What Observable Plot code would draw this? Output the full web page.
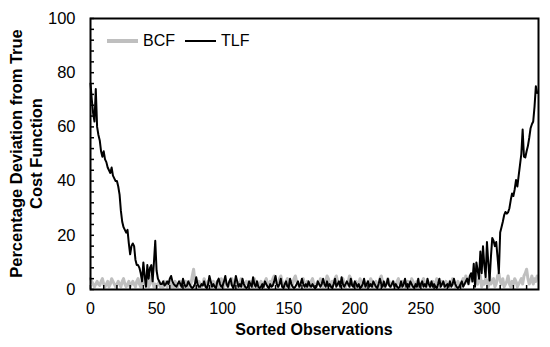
<!DOCTYPE html>
<html>
<head>
<meta charset="utf-8">
<script src="https://cdn.jsdelivr.net/npm/d3@7"></script>
<script src="https://cdn.jsdelivr.net/npm/@observablehq/plot@0.6"></script>
<style>
  html, body { margin: 0; padding: 0; background: #fff; }
  #wrap { position: relative; width: 550px; height: 347px; font-family: "Liberation Sans", Arial, sans-serif; }
  #legend { position: absolute; left: 107px; top: 32px; display: flex; align-items: center; font-size: 16px; color: #000; }
  #legend span.sw { display: inline-block; width: 31px; height: 0; margin-right: 5px; }
  #legend span.lab { margin-right: 10px; }
</style>
</head>
<body>
<div id="wrap">
  <div id="chart"></div>
  <div id="legend"></div>
</div>
<script>
// ---- data ----
const seriesNames = ["BCF", "TLF"];
const seriesColors = ["#bfbfbf", "#000000"];
const xTicks = [0, 50, 100, 150, 200, 250, 300];
const yTicks = [0, 20, 40, 60, 80, 100];

const tlf = [
  76, 70, 65, 62, 74, 60, 57, 55, 51, 49,
  51, 48, 47, 45, 44, 43, 45, 42, 41, 40,
  40, 38, 35, 29, 25, 23, 22, 21, 22, 17,
  13, 16, 17, 16, 11, 9, 9, 8, 6, 3,
  10, 5, 1, 9, 4, 8, 9, 3, 10, 18,
  7, 4, 3, 2, 2, 3, 1.5, 2, 3, 2,
  4, 5, 3, 2, 1.5, 1, 2, 3, 2, 1,
  4, 2, 1, 1.5, 3, 2, 1, 0.5, 1, 2,
  4.5, 2, 1, 1, 2, 1.5, 3, 1, 0.5, 2,
  5, 3, 1, 2, 1, 0.5, 3, 4, 2, 1,
  1.5, 3, 5, 2, 1, 3, 4, 1.5, 0.5, 2,
  5, 3, 1, 2, 1, 4, 2, 1, 0.5, 1,
  3, 2, 1, 4.5, 2, 1, 3, 1, 0.5, 1,
  2, 1, 3, 2, 1, 0.5, 2, 1, 1.5, 3,
  5, 2, 1, 2, 4, 1, 0.5, 2, 3, 1,
  1, 4, 2, 1, 0.5, 1, 2, 3, 1, 2,
  4, 2, 1, 2, 1, 3, 1.5, 1, 2, 1,
  0.5, 1, 3, 2, 1, 2, 4, 2, 1, 3,
  1, 2, 1, 0.5, 2, 4, 1, 2, 3, 1,
  4.5, 2, 1, 2, 3, 2, 1, 4, 1.5, 1,
  3, 2, 1, 2, 0.5, 1, 2, 4, 1, 2,
  3, 1, 2, 1, 3, 2, 1, 0.5, 2, 4,
  2, 1, 3, 1, 2, 4, 1.5, 1, 2, 3,
  1, 2, 1, 0.5, 1, 3, 1, 2, 4, 1,
  2, 1, 3, 2, 1, 0.5, 2, 1, 4, 1,
  2, 3, 1, 2, 1, 4, 2, 1, 3, 1,
  2, 1, 0.5, 2, 4, 1, 2, 3, 1, 1.5,
  2, 1, 3, 1, 2, 4, 2, 1, 0.5, 1,
  2, 3, 1, 2, 3, 4, 2, 5, 6, 3,
  9.5, 1, 10, 7, 4, 14, 6, 16, 9, 4.6,
  17.5, 10, 3.3, 12, 19, 18, 16, 17.5, 12, 6,
  21, 23, 25, 27.4, 28.6, 28, 28.5, 30, 33, 35.4,
  34.5, 37, 40.4, 38, 42, 46, 50, 59, 49, 48.7,
  51, 53, 56, 59.5, 61, 62, 67.5, 75, 72.5
];

const bcf = [
  4, 3, 2, 1, 2, 3, 2, 1.5, 3, 4,
  2, 1, 2, 3, 1, 2, 4, 3, 2, 1,
  2, 3, 2, 1, 3, 4, 2, 1, 2, 3,
  1, 2, 3, 2, 1, 3, 4, 2, 1, 3,
  5, 2, 3, 4, 1, 2, 5, 3, 1, 2,
  1, 2, 3, 1, 2, 1, 3, 2, 1, 2,
  3, 1, 2, 1, 3, 2, 1, 2, 3, 1,
  2, 1, 3, 2, 1, 3, 2, 5, 7.5, 3,
  2, 1, 3, 2, 1, 2, 4, 2, 1, 3,
  2, 1, 2, 3, 1, 2, 3, 1, 2, 4,
  2, 1, 3, 2, 1, 2, 3, 4, 2, 1,
  2, 3, 1, 2, 4, 3, 1, 2, 3, 2,
  1, 3, 2, 1, 4, 2, 3, 1, 2, 3,
  2, 1, 3, 4, 2, 1, 3, 2, 4, 5,
  3, 2, 1, 4, 5, 3, 2, 1, 3, 4,
  2, 1, 3, 2, 4, 5, 3, 2, 1, 2,
  3, 4, 2, 1, 3, 2, 1, 3, 4, 2,
  1, 2, 3, 2, 4, 3, 1, 2, 3, 5,
  4, 2, 1, 3, 2, 4, 5, 3, 2, 1,
  3, 4, 2, 1, 2, 3, 5, 4, 2, 1,
  2, 3, 1, 2, 4, 2, 1, 3, 2, 1,
  3, 2, 4, 3, 1, 2, 3, 2, 1, 4,
  5, 3, 2, 1, 2, 4, 3, 1, 2, 3,
  2, 1, 3, 4, 2, 1, 3, 2, 1, 2,
  3, 2, 1, 4, 3, 2, 1, 3, 2, 1,
  2, 3, 4, 2, 1, 3, 2, 1, 2, 3,
  1, 2, 4, 3, 1, 2, 3, 2, 1, 3,
  2, 1, 3, 2, 4, 3, 1, 2, 3, 2,
  1, 3, 4, 2, 5, 3, 2, 4, 5, 3,
  4, 5, 3, 2, 4, 5, 1, 3, 2, 4,
  3, 1, 5, 2, 3, 4, 1, 2, 5, 6,
  3, 2, 4, 1, 2, 3, 5, 2, 1, 3,
  2, 4, 3, 1, 2, 3, 4, 2, 5, 6,
  7.5, 4, 2, 3, 5, 2, 4, 3, 5
];

// ---- build table ----
const rows = [];
bcf.forEach((v, i) => rows.push({x: i, y: v, s: "BCF"}));
tlf.forEach((v, i) => rows.push({x: i, y: v, s: "TLF"}));

const font = "'Liberation Sans', Arial, sans-serif";

const chart = Plot.plot({
  width: 550,
  height: 347,
  marginLeft: 90,
  marginRight: 12,
  marginTop: 18,
  marginBottom: 58,
  style: {fontFamily: font, fontSize: "16px", color: "#000", background: "#fff"},
  x: {domain: [0, 339], label: null},
  y: {domain: [0, 100], label: null},
  marks: [
    Plot.line(rows.filter(d => d.s === "BCF"), {x: "x", y: "y", stroke: seriesColors[0], strokeWidth: 3}),
    Plot.line(rows.filter(d => d.s === "TLF"), {x: "x", y: "y", stroke: seriesColors[1], strokeWidth: 2}),
    Plot.axisY({ticks: yTicks, tickSize: 0, tickPadding: 15, label: null, fontSize: 16.5}),
    Plot.axisY({ticks: d3.range(0, 101, 4), tickSize: -4, text: null, label: null, strokeWidth: 1.5}),
    Plot.axisX({ticks: xTicks, tickSize: 0, tickPadding: 13, label: null, fontSize: 16}),
    Plot.axisX({ticks: d3.range(0, 340, 10), tickSize: -4, text: null, label: null, strokeWidth: 1.5}),
    Plot.frame({stroke: "#000", strokeWidth: 2})
  ]
});

document.getElementById("chart").appendChild(chart);

// axis titles
const svg = d3.select(chart);
const cy = (18 + 289) / 2;
const yTitle = svg.append("text")
  .attr("transform", `translate(22,${cy}) rotate(-90)`)
  .attr("text-anchor", "middle")
  .style("font-family", font).style("font-size", "16.5px").style("font-weight", "bold").attr("fill", "#000");
yTitle.append("tspan").attr("x", 0).attr("dy", 0).text("Percentage Deviation from True");
yTitle.append("tspan").attr("x", 0).attr("dy", "1.2em").text("Cost Function");

svg.append("text")
  .attr("x", 314).attr("y", 335)
  .attr("text-anchor", "middle")
  .style("font-family", font).style("font-size", "16px").style("font-weight", "bold").attr("fill", "#000")
  .text("Sorted Observations");

// legend
const leg = document.getElementById("legend");
seriesNames.forEach((n, i) => {
  const sw = document.createElement("span");
  sw.className = "sw";
  sw.style.borderTop = `${i === 0 ? 4 : 2}px solid ${seriesColors[i]}`;
  const lab = document.createElement("span");
  lab.className = "lab";
  lab.textContent = n;
  leg.appendChild(sw);
  leg.appendChild(lab);
});
</script>
</body>
</html>
